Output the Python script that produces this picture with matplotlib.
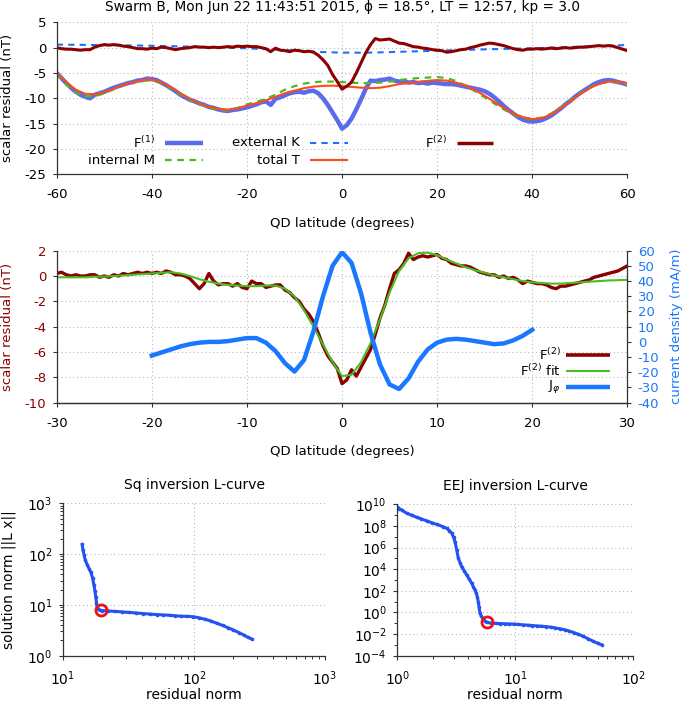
import numpy as np
import matplotlib
matplotlib.use("Agg")
import matplotlib.pyplot as plt
from matplotlib.ticker import LogLocator, NullFormatter

plt.rcParams['font.family'] = ['DejaVu Sans']
plt.rcParams['axes.unicode_minus'] = False
plt.rcParams['mathtext.fontset'] = 'dejavusans'

# ---------------- data: top panel (QD latitude -60..60) ----------------
lat1 = np.arange(-60, 61, 1)
f2_top = [0.0, -0.2, -0.3, -0.3, -0.4, -0.5, -0.4, -0.4, 0.1, 0.4,
          0.6, 0.5, 0.6, 0.5, 0.3, 0.2, 0.0, -0.2, -0.2, -0.3,
          -0.1, -0.2, 0.1, 0.0, -0.2, -0.4, -0.2, -0.1, 0.0, 0.2,
          0.1, 0.1, 0.0, 0.1, 0.0, 0.1, 0.2, 0.1, 0.3, 0.2,
          0.3, 0.2, 0.2, 0.0, -0.2, -0.8, -0.1, -0.5, -0.6, -0.8,
          -0.5, -0.6, -0.8, -0.7, -0.9, -1.5, -2.4, -3.5, -5.3, -6.7,
          -8.2, -7.6, -6.8, -5.0, -3.0, -1.0, 0.6, 1.8, 1.5, 1.6,
          1.7, 1.3, 0.9, 0.8, 0.5, 0.2, 0.1, -0.1, -0.2, -0.4,
          -0.5, -0.6, -0.9, -0.8, -0.6, -0.4, -0.3, 0.0, 0.2, 0.5,
          0.7, 0.9, 0.8, 0.6, 0.4, 0.1, -0.2, -0.4, -0.5, -0.3,
          -0.3, -0.2, -0.3, -0.2, -0.1, -0.2, -0.1, 0.0, -0.1, 0.0,
          0.1, 0.1, 0.2, 0.3, 0.4, 0.3, 0.4, 0.3, 0.0, -0.3,
          -0.6]
f1_top = [-5.0, -6.0, -7.0, -7.9, -8.7, -9.3, -9.7, -10.0, -9.3, -9.0,
          -8.7, -8.3, -7.9, -7.6, -7.3, -7.0, -6.8, -6.5, -6.4, -6.1,
          -6.2, -6.4, -6.9, -7.4, -8.0, -8.6, -9.3, -9.8, -10.3, -10.6,
          -11.0, -11.3, -11.7, -11.9, -12.2, -12.4, -12.5, -12.3, -12.2, -12.0,
          -11.8, -11.5, -11.2, -10.8, -10.6, -11.3, -10.1, -9.8, -9.4, -9.0,
          -8.8, -8.7, -8.9, -8.6, -8.5, -9.0, -10.0, -11.3, -12.8, -14.3,
          -16.0, -15.3, -14.0, -12.2, -10.2, -8.1, -6.5, -6.6, -6.4, -6.3,
          -6.1, -6.5, -6.7, -6.6, -6.9, -6.8, -7.0, -6.9, -7.1, -6.9,
          -7.0, -7.1, -7.2, -7.2, -7.3, -7.5, -7.7, -7.9, -8.1, -8.3,
          -8.6, -9.1, -9.8, -10.6, -11.5, -12.3, -13.0, -13.7, -14.2, -14.5,
          -14.6, -14.5, -14.3, -13.9, -13.4, -12.7, -12.0, -11.2, -10.5, -9.7,
          -9.0, -8.4, -7.8, -7.2, -6.8, -6.5, -6.4, -6.5, -6.8, -7.0,
          -7.3]

lat2 = np.arange(-60, 61, 2)
internal_m = [-5.2, -7.3, -8.9, -9.6, -9.6, -9.0, -8.2, -7.4, -6.8, -6.5,
              -6.5, -7.0, -8.0, -9.2, -10.3, -11.2, -11.9, -12.3, -12.4, -11.9,
              -11.2, -10.7, -10.1, -9.3, -8.3, -7.6, -7.1, -6.8, -6.7, -6.7,
              -6.8, -6.9, -7.0, -7.0, -6.9, -6.7, -6.4, -6.2, -6.0, -5.9,
              -5.8, -6.0, -6.6, -7.5, -8.6, -9.8, -11.0, -12.2, -13.2, -13.9,
              -14.1, -13.8, -13.0, -11.8, -10.4, -9.0, -7.9, -7.1, -6.8, -6.9,
              -7.2]
total_t = [-4.9, -6.8, -8.3, -9.1, -9.2, -8.8, -8.1, -7.4, -6.8, -6.4,
           -6.3, -6.8, -7.8, -9.0, -10.1, -11.0, -11.7, -12.1, -12.3, -12.0,
           -11.4, -11.0, -10.4, -9.7, -9.0, -8.5, -8.0, -7.7, -7.55, -7.5,
           -7.6, -7.75, -7.9, -8.0, -7.9, -7.6, -7.2, -7.0, -6.8, -6.55,
           -6.4, -6.5, -6.9, -7.5, -8.4, -9.5, -10.7, -11.9, -13.0, -13.7,
           -14.1, -13.9, -13.2, -12.0, -10.6, -9.2, -8.0, -7.2, -6.7, -6.7,
           -7.0]
lat_k = [-60, -50, -40, -30, -20, -10, -5, 0, 5, 10, 20, 30, 40, 50, 60]
external_k = [0.6, 0.5, 0.38, 0.15, -0.13, -0.55, -0.85, -0.98, -1.0, -0.88,
              -0.6, -0.33, -0.13, 0.2, 0.52]

# ---------------- data: middle panel (QD latitude -30..30) ----------------
lat_mid = np.arange(-30, 30.01, 0.5)
f2_mid = [0.2, 0.3, 0.1, 0.0, 0.1, 0.0, 0.0, 0.1, 0.1, -0.1,
          0.0, -0.1, 0.1, 0.0, 0.2, 0.1, 0.2, 0.3, 0.2, 0.3,
          0.2, 0.3, 0.2, 0.4, 0.3, 0.1, 0.1, 0.0, -0.2, -0.6,
          -1.0, -0.6, 0.2, -0.4, -0.7, -0.6, -0.6, -0.8, -0.6, -0.9,
          -1.0, -0.4, -0.6, -0.6, -0.9, -0.8, -0.7, -0.7, -1.1, -1.3,
          -1.7, -2.0, -2.6, -3.0, -3.6, -4.5, -5.5, -6.3, -6.8, -7.3,
          -8.5, -8.2, -7.4, -7.9, -7.2, -6.5, -5.8, -4.6, -3.3, -2.3,
          -1.0, 0.2, 0.5, 1.0, 1.8, 1.3, 1.5, 1.6, 1.5, 1.6,
          1.7, 1.4, 1.3, 1.0, 0.9, 0.8, 0.8, 0.7, 0.5, 0.3,
          0.2, 0.1, 0.1, -0.1, 0.0, -0.2, -0.1, -0.3, -0.6, -0.4,
          -0.5, -0.6, -0.6, -0.7, -0.9, -1.0, -0.8, -0.8, -0.7, -0.6,
          -0.5, -0.4, -0.3, -0.1, 0.0, 0.1, 0.2, 0.3, 0.4, 0.6,
          0.8]
lat_fit = np.arange(-30, 31, 1)
f2_fit = [-0.1, -0.1, -0.1, -0.1, -0.05, -0.05, 0.0, 0.05, 0.1, 0.15,
          0.2, 0.25, 0.3, 0.2, 0.0, -0.25, -0.45, -0.6, -0.7, -0.75,
          -0.8, -0.8, -0.75, -0.75, -1.0, -1.6, -2.7, -4.0, -5.4, -6.8,
          -7.9, -7.8, -6.8, -5.3, -3.4, -1.3, 0.4, 1.4, 1.8, 1.85,
          1.65, 1.3, 1.0, 0.7, 0.45, 0.25, 0.05, -0.1, -0.25, -0.4,
          -0.5, -0.55, -0.6, -0.6, -0.55, -0.5, -0.45, -0.4, -0.35, -0.33,
          -0.3]
lat_j = np.arange(-20, 21, 1)
j_phi = [-9, -7, -5, -3, -1.5, -0.5, 0, 0, 0.5, 1.5,
         2.5, 2.5, -0.5, -6, -14, -19.5, -12, 7, 30, 50,
         59, 52, 32, 6, -15, -28, -31, -24, -13, -5,
         -0.5, 1.5, 2, 1.5, 0.5, -0.5, -1.5, -1, 1, 4,
         8]

# ---------------- data: L-curves ----------------
sq_resid = [14.0, 14.2, 14.5, 14.8, 15.3, 15.8, 16.3, 16.8, 17.2, 17.5,
            17.8, 18.0, 18.2, 18.6, 19.1, 20, 22, 25, 28, 32,
            36, 41, 46, 52, 58, 65, 72, 80, 89, 99,
            110, 122, 135, 149, 165, 182, 200, 220, 240, 258,
            276]
sq_soln = [155, 120, 95, 75, 62, 52, 44, 34, 25, 19,
           14, 11, 9.3, 8.2, 7.9, 7.75, 7.6, 7.45, 7.3, 7.1,
           6.95, 6.75, 6.6, 6.45, 6.35, 6.25, 6.1, 6.0, 5.95, 5.85,
           5.55, 5.2, 4.8, 4.35, 3.95, 3.55, 3.2, 2.85, 2.55, 2.3,
           2.13]
sq_corner = (19.5, 7.9)

eej_resid = [1.0, 1.04, 1.09, 1.2, 1.32, 1.46, 1.6, 1.77, 1.96, 2.16,
             2.45, 2.62, 2.76, 2.89, 3.0, 3.08, 3.19, 3.29, 3.4, 3.51,
             3.69, 3.87, 4.07, 4.27, 4.42, 4.55, 4.66, 4.76, 4.85, 4.92,
             5.02, 5.15, 5.29, 5.5, 5.72, 6.2, 6.8, 7.4, 8.1, 8.9,
             9.7, 10.6, 11.6, 12.7, 13.9, 15.2, 16.6, 18.2, 19.9, 21.8,
             23.9, 26.2, 28.6, 31.2, 34.2, 37.7, 41.5, 45.9, 50.0, 54.3]
eej_soln = [6e9, 4e9, 3e9, 1.5e9, 1.0e9, 6.3e8, 4.5e8, 3e8, 2e8, 1.4e8,
            8.5e7, 6e7, 3.8e7, 2.1e7, 9e6, 3.5e6, 5.9e5, 1e5, 4e4, 1.7e4,
            7e3, 2.9e3, 1.2e3, 500, 230, 120, 60, 29, 10, 3.4,
            0.83, 0.45, 0.29, 0.17, 0.12, 0.105, 0.098, 0.093, 0.09, 0.087,
            0.084, 0.078, 0.072, 0.067, 0.062, 0.057, 0.053, 0.049, 0.044, 0.037,
            0.031, 0.025, 0.019, 0.014, 0.0095, 0.0062, 0.0036, 0.0021, 0.0014, 0.001]
eej_corner = (5.75, 0.125)

# ---------------- styles ----------------
DARKRED = '#8b0000'
F1BLUE = '#5b6bec'
KBLUE = '#1f6fff'
MGREEN = '#48bb22'
TRED = '#ff4a1c'
FITGREEN = '#44c020'
JBLUE = '#1a78ff'
LBLUE = '#2452f2'
SPINE = '#333333'
GRID = dict(color='#b8b8b8', linestyle=(0, (1, 2.5)), linewidth=0.8)
FS = 9.5

fig = plt.figure(figsize=(6.85, 7.04), dpi=100)


def style_axes(ax, right=False):
    for s in ['top', 'right']:
        ax.spines[s].set_visible(False)
    if right:
        ax.spines['right'].set_visible(True)
    for s in ax.spines.values():
        s.set_color(SPINE)
        s.set_linewidth(0.9)
    ax.tick_params(direction='out', length=3, width=0.8, color=SPINE, labelsize=FS)
    ax.tick_params(axis='x', pad=7)
    ax.tick_params(axis='y', pad=4.5)


def legend_entry(ax, xt, y, label, color, lw, ls='-', x0=None, x1=None):
    ax.text(xt, y, label, transform=ax.transAxes, ha='right', va='center', fontsize=FS)
    ax.plot([x0, x1], [y, y], transform=ax.transAxes, color=color, lw=lw, ls=ls,
            clip_on=False, solid_capstyle='butt')


# ---------------- top panel ----------------
ax1 = fig.add_axes([0.0828, 0.7524, 0.833, 0.2159])
style_axes(ax1)
ax1.plot(lat1, f1_top, color=F1BLUE, lw=3.2)
ax1.plot(lat2, internal_m, color=MGREEN, lw=1.6, ls=(0, (3, 2.5)))
ax1.plot(lat_k, external_k, color=KBLUE, lw=1.5, ls=(0, (3, 2.5)))
ax1.plot(lat2, total_t, color=TRED, lw=1.5)
ax1.plot(lat1, f2_top, color=DARKRED, lw=2.2)
ax1.set_xlim(-60, 60)
ax1.set_ylim(-25, 5)
ax1.set_xticks(np.arange(-60, 61, 20))
ax1.set_yticks(np.arange(-25, 6, 5))
ax1.grid(True, **GRID)
ax1.set_axisbelow(True)
ax1.set_xlabel('QD latitude (degrees)', fontsize=FS)
ax1.set_ylabel('scalar residual (nT)', fontsize=FS)
ax1.xaxis.set_label_coords(0.5, -0.28)
ax1.yaxis.set_label_coords(-0.074, 0.5)
ax1.text(0.5, 1.103, 'Swarm B, Mon Jun 22 11:43:51 2015, ϕ = 18.5°, LT = 12:57, kp = 3.0',
         transform=ax1.transAxes, ha='center', va='center', fontsize=9.8)

r1, r2 = 0.206, 0.094
legend_entry(ax1, 0.172, r1, 'F$^{(1)}$', F1BLUE, 3.2, x0=0.190, x1=0.257)
legend_entry(ax1, 0.172, r2, 'internal M', MGREEN, 1.6, (0, (3, 2.5)), 0.190, 0.257)
legend_entry(ax1, 0.426, r1, 'external K', KBLUE, 1.5, (0, (3, 2.5)), 0.444, 0.510)
legend_entry(ax1, 0.426, r2, 'total T', TRED, 1.5, x0=0.444, x1=0.510)
legend_entry(ax1, 0.684, r1, 'F$^{(2)}$', DARKRED, 2.5, x0=0.702, x1=0.765)

# ---------------- middle panel ----------------
ax2 = fig.add_axes([0.0828, 0.428, 0.833, 0.2159])
style_axes(ax2)
ax2.plot(lat_mid, f2_mid, color=DARKRED, lw=2.4)
ax2.plot(lat_fit, f2_fit, color=FITGREEN, lw=1.5)
ax2.set_xlim(-30, 30)
ax2.set_ylim(-10, 2)
ax2.set_xticks(np.arange(-30, 31, 10))
ax2.set_yticks(np.arange(-10, 3, 2))
ax2.grid(True, **GRID)
ax2.set_axisbelow(True)
ax2.tick_params(axis='y', labelcolor=DARKRED)
ax2.set_xlabel('QD latitude (degrees)', fontsize=FS)
ax2.set_ylabel('scalar residual (nT)', fontsize=FS, color=DARKRED)
ax2.xaxis.set_label_coords(0.5, -0.28)
ax2.yaxis.set_label_coords(-0.074, 0.5)

ax2r = ax2.twinx()
style_axes(ax2r, right=True)
ax2r.spines['left'].set_visible(False)
ax2r.plot(lat_j, j_phi, color=JBLUE, lw=3.2)
ax2r.set_ylim(-40, 60)
ax2r.set_yticks(np.arange(-40, 61, 10))
ax2r.tick_params(axis='y', labelcolor=JBLUE, pad=4.5)
ax2r.set_ylabel('current density (mA/m)', fontsize=FS, color=JBLUE)
ax2r.yaxis.set_label_coords(1.075, 0.5)

legend_entry(ax2r, 0.884, 0.314, 'F$^{(2)}$', DARKRED, 2.6, x0=0.893, x1=0.969)
legend_entry(ax2r, 0.884, 0.209, 'F$^{(2)}$ fit', FITGREEN, 1.5, x0=0.893, x1=0.969)
legend_entry(ax2r, 0.884, 0.105, 'J$_{\\varphi}$', JBLUE, 3.2, x0=0.893, x1=0.969)

# ---------------- L-curves ----------------
FSB = 10


def style_log(ax):
    style_axes(ax)
    ax.tick_params(labelsize=FSB)
    ax.tick_params(which='minor', direction='out', length=2, width=0.7, color=SPINE)
    ax.grid(True, which='major', **GRID)
    ax.set_axisbelow(True)


ax3 = fig.add_axes([0.092, 0.0686, 0.3825, 0.2165])
ax3.set_xscale('log')
ax3.set_yscale('log')
style_log(ax3)
ax3.plot(sq_resid, sq_soln, color=LBLUE, lw=2.2, marker='o', ms=2.6, mew=0)
ax3.plot([sq_corner[0]], [sq_corner[1]], marker='o', ms=8, mfc='none', mec='#ee1111', mew=2)
ax3.set_xlim(10, 1000)
ax3.set_ylim(1, 1000)
ax3.xaxis.set_minor_locator(LogLocator(base=10, subs=np.arange(2, 10)))
ax3.yaxis.set_minor_locator(LogLocator(base=10, subs=np.arange(2, 10)))
ax3.xaxis.set_minor_formatter(NullFormatter())
ax3.yaxis.set_minor_formatter(NullFormatter())
ax3.set_xlabel('residual norm', fontsize=FSB)
ax3.set_ylabel('solution norm ||L x||', fontsize=FSB)
ax3.xaxis.set_label_coords(0.5, -0.215)
ax3.yaxis.set_label_coords(-0.18, 0.5)
ax3.text(0.5, 1.12, 'Sq inversion L-curve', transform=ax3.transAxes,
         ha='center', va='center', fontsize=FSB)

ax4 = fig.add_axes([0.580, 0.0686, 0.3446, 0.215])
ax4.set_xscale('log')
ax4.set_yscale('log')
style_log(ax4)
ax4.plot(eej_resid, eej_soln, color=LBLUE, lw=2.2, marker='o', ms=2.6, mew=0)
ax4.plot([eej_corner[0]], [eej_corner[1]], marker='o', ms=8, mfc='none', mec='#ee1111', mew=2)
ax4.set_xlim(1, 100)
ax4.set_ylim(1e-4, 1e10)
ax4.xaxis.set_minor_locator(LogLocator(base=10, subs=np.arange(2, 10)))
ax4.xaxis.set_minor_formatter(NullFormatter())
ax4.set_yticks([1e-4, 1e-2, 1e0, 1e2, 1e4, 1e6, 1e8, 1e10])
ax4.yaxis.set_minor_locator(LogLocator(base=10, subs=[1.0], numticks=20))
ax4.yaxis.set_minor_formatter(NullFormatter())
ax4.set_xlabel('residual norm', fontsize=FSB)
ax4.xaxis.set_label_coords(0.5, -0.215)
ax4.text(0.5, 1.12, 'EEJ inversion L-curve', transform=ax4.transAxes,
         ha='center', va='center', fontsize=FSB)

fig.savefig('out.png', dpi=100)
